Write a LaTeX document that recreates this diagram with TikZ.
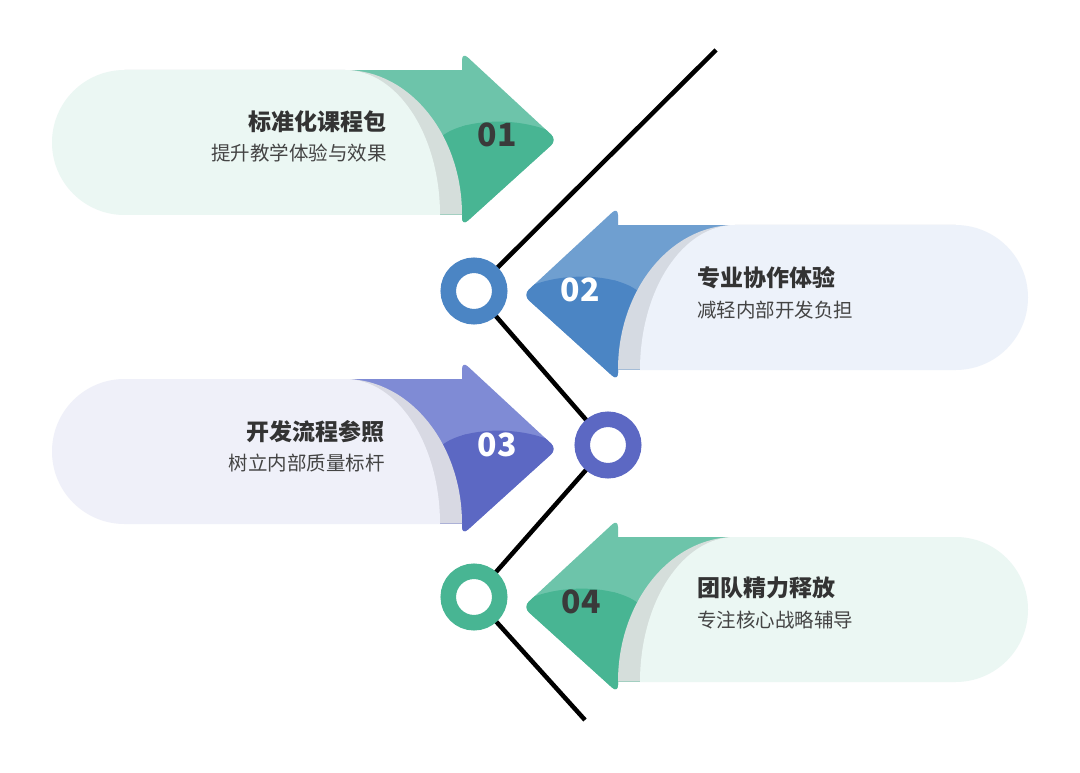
\documentclass[tikz,border=0pt]{standalone}
\usepackage{fontspec}
\setmainfont{Noto Sans CJK SC}
\definecolor{gL}{HTML}{6DC4AA}
\definecolor{gD}{HTML}{48B593}
\definecolor{gG}{HTML}{D5DEDB}
\definecolor{gP}{HTML}{EBF7F3}
\definecolor{bL}{HTML}{6F9FD0}
\definecolor{bD}{HTML}{4B85C4}
\definecolor{bG}{HTML}{D5DAE2}
\definecolor{bP}{HTML}{EDF2FA}
\definecolor{pL}{HTML}{7F8BD5}
\definecolor{pD}{HTML}{5C68C3}
\definecolor{pG}{HTML}{D8D9E3}
\definecolor{pP}{HTML}{EFF0F9}
\definecolor{txtA}{HTML}{333333}
\definecolor{txtB}{HTML}{444444}
\definecolor{numD}{HTML}{3A3A3A}
\newcommand\stagearrow[4]{%
  % body and head (light)
  \fill[#1] (345,0) rectangle (466,144.2);
  \fill[#1, rounded corners=8pt] (462,-18) -- (557,70) -- (462,156) -- cycle;
  % darker lower part
  \begin{scope}
    \clip (345,0) rectangle (466,144.2);
    \fill[#2] (400,72) -- (440,68) .. controls (460,48) and (530,43) .. (570,72) -- (570,170) -- (400,170) -- cycle;
  \end{scope}
  \begin{scope}
    \clip[rounded corners=8pt] (462,-18) -- (557,70) -- (462,156) -- cycle;
    \fill[#2] (400,72) -- (440,68) .. controls (460,48) and (530,43) .. (570,72) -- (570,170) -- (400,170) -- cycle;
  \end{scope}
  % grey shadow band
  \fill[#3] (124.5,0) -- (345,0) .. controls (409.6,0) and (462,65) .. (462,144.6) -- (124.5,144.6) -- cycle;
  % pill
  \fill[#4] (124.5,0) -- (345,0) .. controls (397.4,0) and (440,65) .. (440,145) -- (124.5,145) -- cycle;
  \fill[#4] (124.5,72.5) circle[radius=72.5];
}
\tikzset{
  ring/.style={circle, inner sep=0pt, minimum size=51.5pt, line width=15.5pt, fill=white, draw=#1},
  ttl/.style={font=\fontsize{23}{23}\selectfont\bfseries, text=txtA, inner sep=0pt},
  subt/.style={font=\fontsize{19.5}{20}\selectfont, text=txtB, inner sep=0pt},
  num/.style={font=\fontsize{32}{32}\selectfont\bfseries, inner sep=0pt, text=#1},
}
\begin{document}
\begin{tikzpicture}[x=1pt,y=-1pt]
\useasboundingbox (0,0) rectangle (1080,773);
\fill[white] (0,0) rectangle (1080,773);
\begin{scope}[shift={(0,70)}] \stagearrow{gL}{gD}{gG}{gP} \end{scope}
\begin{scope}[shift={(1080,225)}, xscale=-1] \stagearrow{bL}{bD}{bG}{bP} \end{scope}
\begin{scope}[shift={(0,379)}] \stagearrow{pL}{pD}{pG}{pP} \end{scope}
\begin{scope}[shift={(1080,537)}, xscale=-1] \stagearrow{gL}{gD}{gG}{gP} \end{scope}
% timeline
\coordinate (ltop) at (716,50);
\coordinate (c2) at (474,291);
\coordinate (c3) at (608,445);
\coordinate (c4) at (474,597);
\coordinate (lend) at (585,720);
\draw[line width=4.5pt] (ltop) -- (c2) -- (c3) -- (c4) -- (lend);
\node[ring=bD] (r2) at (c2) {};
\node[ring=pD] (r3) at (c3) {};
\node[ring=gD] (r4) at (c4) {};
% numbers
\node[num=numD] (n1) at (497,135) {01};
\node[num=white] (n2) at (580,290) {02};
\node[num=white] (n3) at (497,445) {03};
\node[num=numD] (n4) at (581,602) {04};
% texts
\node[ttl, anchor=base east] (t1) at (387,130.7) {标准化课程包};
\node[subt, anchor=base east] (s1) at (387,160.4) {提升教学体验与效果};
\node[ttl, anchor=base west] (t2) at (697,286.7) {专业协作体验};
\node[subt, anchor=base west] (s2) at (697,317.4) {减轻内部开发负担};
\node[ttl, anchor=base east] (t3) at (385,440.7) {开发流程参照};
\node[subt, anchor=base east] (s3) at (385,470.4) {树立内部质量标杆};
\node[ttl, anchor=base west] (t4) at (697,596.7) {团队精力释放};
\node[subt, anchor=base west] (s4) at (697,627.4) {专注核心战略辅导};
\end{tikzpicture}
\end{document}
